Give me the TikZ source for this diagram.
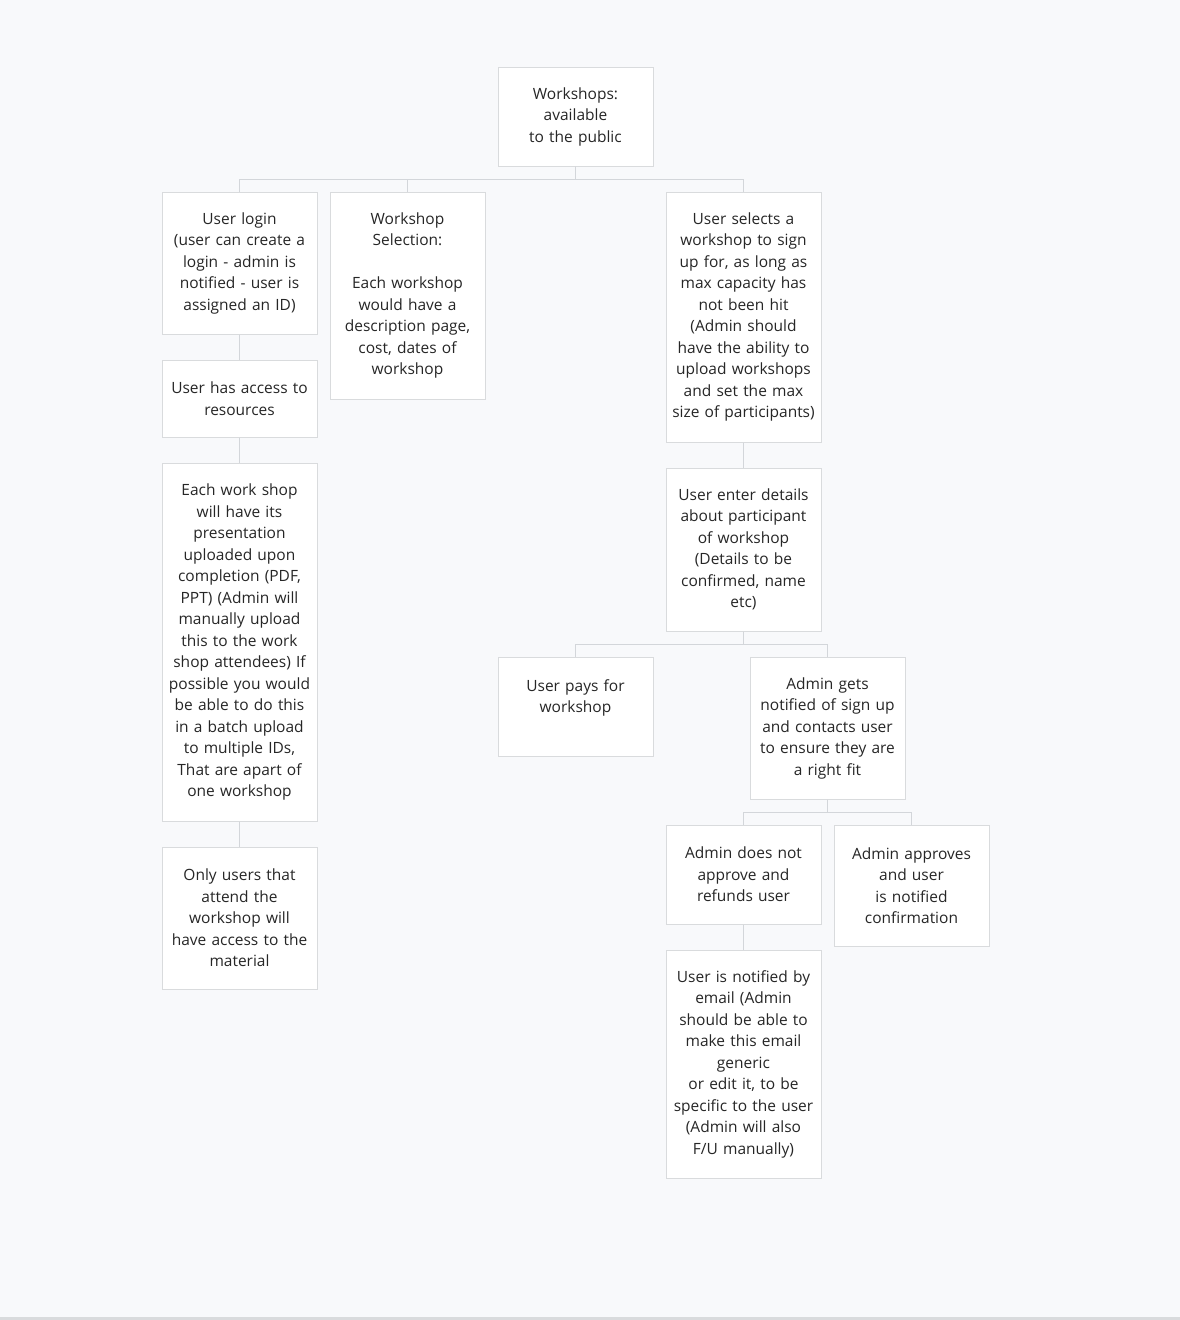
\documentclass[tikz,border=0pt]{standalone}
\usepackage{fontspec}
\setmainfont{Open Sans}
\usepackage{xcolor}
\usepackage{tikz}
\usetikzlibrary{calc, shadows}
\definecolor{pagebg}{HTML}{F8F9FB}
\definecolor{cardline}{HTML}{D9DBDD}
\definecolor{linkline}{HTML}{D3D6DA}
\tikzstyle{card} = [rectangle, minimum width=155pt, text width=150pt, inner xsep=2.5pt, inner ysep=4pt, align=center, draw=cardline, line width=1pt, fill=white, font=\fontsize{15.5}{21.5}\selectfont, text=black!85, drop shadow={shadow xshift=0.8pt, shadow yshift=-0.8pt, fill=black!8}]
\tikzstyle{link} = [draw=linkline, line width=1.5pt]

\begin{document}
\begin{tikzpicture}[x=1pt, y=-1pt]
    \useasboundingbox (0,0) rectangle (1180,1320);
    \fill [pagebg] (0,0) rectangle (1180,1320);
    \fill [cardline] (0,1317) rectangle (1180,1320);

    \node (root)    [card, minimum height=99pt]  at (575.5,116.5) {Workshops:\\available\\to the public};
    \node (login)   [card, minimum height=142pt] at (239.5,263) {User login\\(user can create a\\login - admin is\\notified - user is\\assigned an ID)};
    \node (select)  [card, minimum height=207pt] at (407.5,295.5) {Workshop\\Selection:\\[21.5pt]Each workshop\\would have a\\description page,\\cost, dates of\\workshop};
    \node (signup)  [card, minimum height=250pt] at (743.5,317) {User selects a\\workshop to sign\\up for, as long as\\max capacity has\\not been hit\\(Admin should\\have the ability to\\upload workshops\\and set the max\\size of participants)};
    \node (access)  [card, minimum height=77pt]  at (239.5,398.5) {User has access to\\resources};
    \node (upload)  [card, minimum height=358pt] at (239.5,642) {Each work shop\\will have its\\presentation\\uploaded upon\\completion (PDF,\\PPT) (Admin will\\manually upload\\this to the work\\shop attendees) If\\possible you would\\be able to do this\\in a batch upload\\to multiple IDs,\\That are apart of\\one workshop};
    \node (attend)  [card, minimum height=142pt] at (239.5,918) {Only users that\\attend the\\workshop will\\have access to the\\material};
    \node (details) [card, minimum height=163pt] at (743.5,549.5) {User enter details\\about participant\\of workshop\\(Details to be\\confirmed, name\\etc)};
    \node (pays)    [card, text height=30pt, text depth=61pt] at (575.5,706.5) {User pays for\\workshop};
    \node (notify)  [card, minimum height=142pt] at (827.5,728) {Admin gets\\notified of sign up\\and contacts user\\to ensure they are\\a right fit};
    \node (refuse)  [card, minimum height=99pt]  at (743.5,874.5) {Admin does not\\approve and\\refunds user};
    \node (approve) [card, minimum height=121pt] at (911.5,885.5) {Admin approves\\and user\\is notified\\confirmation};
    \node (email)   [card, minimum height=228pt] at (743.5,1064) {User is notified by\\email (Admin\\should be able to\\make this email\\generic\\or edit it, to be\\specific to the user\\(Admin will also\\F/U manually)};

    % links
    \draw [link] (root.south)    -- ++(0,13) -| (login.north);
    \draw [link] (root.south)    -- ++(0,13) -| (select.north);
    \draw [link] (root.south)    -- ++(0,13) -| (signup.north);
    \draw [link] (login.south)   -- (access.north);
    \draw [link] (access.south)  -- (upload.north);
    \draw [link] (upload.south)  -- (attend.north);
    \draw [link] (signup.south)  -- (details.north);
    \draw [link] (details.south) -- ++(0,13) -| (pays.north);
    \draw [link] (details.south) -- ++(0,13) -| (notify.north);
    \draw [link] (notify.south)  -- ++(0,13) -| (refuse.north);
    \draw [link] (notify.south)  -- ++(0,13) -| (approve.north);
    \draw [link] (refuse.south)  -- (email.north);
\end{tikzpicture}
\end{document}
